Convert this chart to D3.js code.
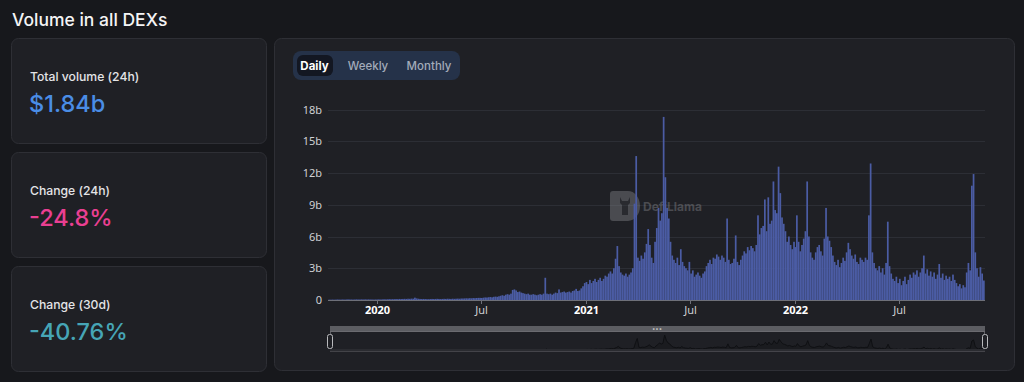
<!DOCTYPE html>
<html>
<head>
<meta charset="utf-8">
<script src="https://cdn.jsdelivr.net/npm/d3@7"></script>
<style>
	body {
		margin: 0;
		background-color: #17181c;
		font-family: Inter, "Noto Sans", sans-serif;
	}
	svg {
		display: block;
	}
</style>
</head>
<body>
<script>
	// stat cards
	var statLabels = ["Total volume (24h)", "Change (24h)", "Change (30d)"];
	var statValues = ["$1.84b", "-24.8%", "-40.76%"];
	var statColors = ["#4a8de6", "#ea3f92", "#46a5b6"];

	var tabs = ["Daily", "Weekly", "Monthly"];

	// volume in billions, one value every 3 days
	var vol2019 = [0.03,0.03,0.04,0.03,0.04,0.05,0.04,0.04,0.05,0.04,0.05,0.06,0.05,0.05,0.04,0.05,0.06,0.05,0.05,0.06,0.05,0.06,0.05,0.06,0.05,0.05,0.04,0.05];
	var vol2020 = [
		0.05,0.06,0.05,0.06,0.07,0.06,0.07,0.08,0.07,0.08,
		0.08,0.09,0.08,0.1,0.09,0.1,0.11,0.1,0.12,0.11,
		0.13,0.12,0.22,0.15,0.12,0.1,0.09,0.1,0.09,0.08,
		0.08,0.09,0.1,0.09,0.1,0.11,0.1,0.09,0.1,0.11,
		0.1,0.12,0.11,0.1,0.12,0.11,0.12,0.13,0.12,0.14,
		0.14,0.15,0.16,0.15,0.17,0.16,0.18,0.17,0.19,0.2,
		0.2,0.19,0.22,0.24,0.23,0.26,0.28,0.25,0.3,0.32,
		0.3,0.35,0.4,0.45,0.4,0.5,0.55,0.5,0.6,0.95,
		1.0,0.9,0.75,0.8,0.7,0.65,0.6,0.55,0.6,0.5,
		0.5,0.55,0.5,0.45,0.5,0.55,0.5,0.6,2.1,0.6,
		0.55,0.6,0.5,0.6,0.7,0.65,1.0,0.7,0.75,0.8,
		0.7,0.75,0.8,0.7,0.85,0.9,1.05,0.85,0.9,1.1,1.3,1.6];
	var vol2021 = [
		1.7,1.5,1.9,1.6,1.8,2.0,1.7,1.9,2.1,1.8,
		2.0,2.3,2.2,2.5,2.7,2.5,3.0,3.9,5.1,3.2,
		2.6,2.4,2.3,2.5,2.2,2.4,2.6,3.0,9.1,13.6,
		4.0,3.7,4.2,3.9,4.5,5.3,6.7,5.2,4.0,3.5,
		5.5,6.8,8.7,7.5,8.2,17.3,11.6,8.7,7.7,5.5,
		4.2,3.8,3.5,4.0,3.3,4.8,3.6,3.2,3.0,2.8,
		3.6,2.5,2.8,2.2,2.4,2.6,2.3,2.1,2.5,2.7,
		3.2,3.5,3.8,3.4,4.0,3.9,4.3,4.1,3.8,4.2,
		4.0,3.6,7.7,3.8,3.4,3.5,3.9,6.1,3.6,3.3,
		3.8,4.2,4.6,4.4,5.0,4.7,5.1,4.9,4.6,5.2,
		8.0,6.2,6.8,7.0,9.5,6.5,9.7,7.2,7.5,11.2,
		8.5,8.2,12.6,10.1,7.8,7.2,6.5,5.5,6.0,5.2,4.8,5.5];
	var vol2022 = [
		5.0,8.0,5.5,4.6,5.2,5.8,6.5,11.2,6.0,4.5,
		4.0,3.8,4.5,5.0,5.2,4.6,4.2,5.8,8.7,6.0,
		5.6,5.0,4.2,3.6,3.3,3.8,3.1,3.5,4.0,3.7,
		4.5,5.4,4.8,4.2,3.9,4.3,3.6,3.4,4.0,3.8,
		3.6,4.0,3.8,8.0,12.9,4.5,3.5,3.0,2.8,3.2,
		2.6,3.0,2.4,3.5,7.4,3.2,2.5,2.0,1.8,2.2,
		1.6,2.0,1.4,1.8,2.2,1.5,1.9,2.4,2.1,2.6,
		2.4,2.8,2.2,2.6,3.0,4.2,2.5,2.9,2.3,2.7,
		2.2,2.6,2.0,2.4,3.4,2.1,2.5,1.9,2.3,2.0,
		2.2,1.8,2.4,1.9,1.6,1.3,1.5,1.1,1.4,1.2,
		2.6,3.5,2.8,10.8,11.9,4.5,3.0,2.2,3.1,2.5,1.84];
	var seriesStarts = ["2019-10-09", "2020-01-01", "2021-01-01", "2022-01-01"];
	var stepDays = 3;

	var yTicks = [0, 3, 6, 9, 12, 15, 18];
	var xTicks = ["2020-01-01", "2020-07-01", "2021-01-01", "2021-07-01", "2022-01-01", "2022-07-01"];
	var xTickLabels = ["2020", "Jul", "2021", "Jul", "2022", "Jul"];

	var parse = d3.utcParse("%Y-%m-%d");
	var data = [];
	[vol2019, vol2020, vol2021, vol2022].forEach(function(arr, s){
		var start = parse(seriesStarts[s]);
		arr.forEach(function(v, i){
			data.push({date: d3.utcDay.offset(start, i*stepDays), value: v});
		});
	});

	var width = 1024, height = 382;
	var svg = d3.select("body").append("svg")
		.attr("width", width)
		.attr("height", height);

	svg.append("text")
		.attr("x", 12).attr("y", 26)
		.attr("fill", "#f4f4f5")
		.attr("font-size", 17.5)
		.attr("font-weight", 500)
		.text("Volume in all DEXs");

	// left cards
	var cardY = [38, 152, 266];
	var cards = svg.selectAll("g.card")
		.data(statLabels)
		.enter().append("g")
		.attr("class", "card")
		.attr("transform", function(d, i){ return "translate(11," + cardY[i] + ")"; });
	cards.append("rect")
		.attr("x", 0.5).attr("y", 0.5)
		.attr("width", 255).attr("height", 105)
		.attr("rx", 7)
		.attr("fill", "#1f2025")
		.attr("stroke", "#2e2f35");
	cards.append("text")
		.attr("x", 19).attr("y", 42.5)
		.attr("fill", "#e4e4e7")
		.attr("font-size", 12.2)
		.attr("font-weight", 500)
		.text(function(d){ return d; });
	cards.append("text")
		.attr("x", 18).attr("y", 73.5)
		.attr("fill", function(d, i){ return statColors[i]; })
		.attr("font-size", 23.5)
		.attr("font-weight", 500)
		.text(function(d, i){ return statValues[i]; });

	// chart card
	svg.append("rect")
		.attr("x", 274.5).attr("y", 38.5)
		.attr("width", 740).attr("height", 332)
		.attr("rx", 7)
		.attr("fill", "#1f2025")
		.attr("stroke", "#2e2f35");

	// tabs
	svg.append("rect")
		.attr("x", 293).attr("y", 51)
		.attr("width", 167).attr("height", 29)
		.attr("rx", 8)
		.attr("fill", "#253249");
	svg.append("rect")
		.attr("x", 297).attr("y", 55)
		.attr("width", 36).attr("height", 21)
		.attr("rx", 6)
		.attr("fill", "#131722");
	var tabX = [314.5, 368, 429];
	svg.selectAll("text.tab")
		.data(tabs)
		.enter().append("text")
		.attr("class", "tab")
		.attr("x", function(d, i){ return tabX[i]; })
		.attr("y", 70)
		.attr("text-anchor", "middle")
		.attr("font-size", 11.5)
		.attr("font-weight", function(d, i){ return i == 0 ? 700 : 500; })
		.attr("fill", function(d, i){ return i == 0 ? "#ffffff" : "#a3abb9"; })
		.text(function(d){ return d; });

	// scales
	var x = d3.scaleUtc()
		.domain([parse("2019-10-07"), parse("2022-11-29")])
		.range([328, 985]);
	var y = d3.scaleLinear()
		.domain([0, 18])
		.range([300, 109.5]);

	// grid + y labels
	svg.selectAll("line.grid")
		.data(yTicks.slice(1))
		.enter().append("line")
		.attr("class", "grid")
		.attr("x1", 328).attr("x2", 985)
		.attr("y1", function(d){ return Math.round(y(d)) + 0.5; })
		.attr("y2", function(d){ return Math.round(y(d)) + 0.5; })
		.attr("stroke", "#2c2e35");
	svg.selectAll("text.ylab")
		.data(yTicks)
		.enter().append("text")
		.attr("class", "ylab")
		.attr("x", 322)
		.attr("y", function(d){ return y(d) + 4; })
		.attr("text-anchor", "end")
		.attr("font-family", "'Noto Sans', sans-serif")
		.attr("font-size", 11)
		.attr("fill", "#cfd0d4")
		.text(function(d){ return d == 0 ? "0" : d + "b"; });

	// watermark
	var wm = svg.append("g").attr("transform", "translate(610,191)").attr("opacity", 0.4);
	wm.append("path")
		.attr("d", "M3,0 H18 A12,15 0 0 1 18,30 H3 A3,3 0 0 1 0,27 V3 A3,3 0 0 1 3,0 Z")
		.attr("fill", "#8a8b90");
	wm.append("path")
		.attr("d", "M10,6 L12,10 L18,10 L20,6 L20,12 L18,14 L18,24 L12,24 L12,14 L10,12 Z")
		.attr("fill", "#3a3b40");
	wm.append("text")
		.attr("x", 33).attr("y", 19.5)
		.attr("font-size", 12)
		.attr("font-weight", 700)
		.attr("fill", "#8a8b90")
		.text("DefiLlama");

	// bars
	var barW = x(parse("2020-01-04")) - x(parse("2020-01-01"));
	svg.append("g").selectAll("rect")
		.data(data)
		.enter().append("rect")
		.attr("x", function(d){ return x(d.date) - barW/2; })
		.attr("y", function(d){ return y(d.value); })
		.attr("width", barW)
		.attr("height", function(d){ return y(0) - y(d.value); })
		.attr("fill", "#4b5ca4");

	// x axis
	svg.append("line")
		.attr("x1", 328).attr("x2", 985)
		.attr("y1", 300.5).attr("y2", 300.5)
		.attr("stroke", "#6e7079");
	var xt = svg.selectAll("g.xtick")
		.data(xTicks)
		.enter().append("g")
		.attr("class", "xtick")
		.attr("transform", function(d){ return "translate(" + Math.round(x(parse(d))) + ".5,300)"; });
	xt.append("line")
		.attr("y1", 0).attr("y2", 4)
		.attr("stroke", "#6e7079");
	xt.append("text")
		.attr("y", 14)
		.attr("text-anchor", "middle")
		.attr("font-family", "'Noto Sans', sans-serif")
		.attr("font-size", 11)
		.attr("font-weight", function(d, i){ return i % 2 == 0 ? 700 : 400; })
		.attr("fill", function(d, i){ return i % 2 == 0 ? "#ffffff" : "#cfd0d4"; })
		.text(function(d, i){ return xTickLabels[i]; });

	// data zoom slider
	var sx = d3.scaleUtc().domain(x.domain()).range([330, 985]);
	var sy = d3.scaleLinear().domain([0, d3.max(data, function(d){ return d.value; })]).range([351, 335]);
	svg.append("rect")
		.attr("x", 330).attr("y", 326)
		.attr("width", 655).attr("height", 5.5)
		.attr("fill", "#5c5d62");
	svg.append("text")
		.attr("x", 657).attr("y", 330.5)
		.attr("text-anchor", "middle")
		.attr("font-size", 6)
		.attr("fill", "#c8c8c8")
		.text("•••");
	svg.append("path")
		.datum(data)
		.attr("d", d3.area().x(function(d){ return sx(d.date); }).y0(351).y1(function(d){ return sy(d.value); }))
		.attr("fill", "#1a1b1f");
	svg.append("path")
		.datum(data)
		.attr("d", d3.line().x(function(d){ return sx(d.date); }).y(function(d){ return sy(d.value); }))
		.attr("fill", "none")
		.attr("stroke", "#0f1013")
		.attr("stroke-width", 1);
	svg.append("rect")
		.attr("x", 330.5).attr("y", 331.5)
		.attr("width", 654).attr("height", 20)
		.attr("fill", "none")
		.attr("stroke", "#8a8b90")
		.attr("stroke-opacity", 0.6);
	svg.append("rect")
		.attr("x", 330).attr("y", 349)
		.attr("width", 655).attr("height", 2.5)
		.attr("fill", "#2a2b30");
	[330, 985].forEach(function(hx){
		svg.append("rect")
			.attr("x", hx - 2.5).attr("y", 334.5)
			.attr("width", 5).attr("height", 14)
			.attr("rx", 2)
			.attr("fill", "#1f2025")
			.attr("stroke", "#b9babd");
	});
</script>
</body>
</html>
